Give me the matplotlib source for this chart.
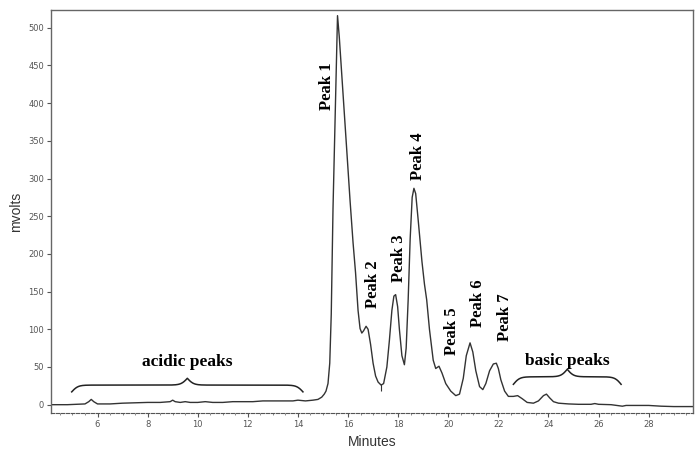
#! /usr/bin/env python3

"""
Chromatogram with labelled peaks (mvolts vs minutes).
"""
import numpy as np
import matplotlib
matplotlib.use('Agg')
import matplotlib.pyplot as plt
from matplotlib.ticker import MultipleLocator

# trace
minutes = [4.15, 4.8, 5.2, 5.5, 5.65, 5.75, 5.85, 6.0, 6.5, 7.0, 7.5, 8.0,
           8.5, 8.9, 9.0, 9.1, 9.3, 9.5, 9.7, 10.0, 10.3, 10.6, 11.0, 11.4,
           11.8, 12.2, 12.6, 13.0, 13.4, 13.8, 14.0, 14.3, 14.6, 14.8, 14.95,
           15.05, 15.12, 15.2, 15.27, 15.33, 15.4, 15.46, 15.52, 15.58,
           15.65, 15.75, 15.85, 15.95, 16.08, 16.2, 16.3, 16.4, 16.48, 16.55,
           16.62, 16.72, 16.8, 16.9, 17.0, 17.1, 17.2, 17.32, 17.42, 17.55,
           17.65, 17.75, 17.83, 17.9, 17.98, 18.05, 18.15, 18.25, 18.32, 18.4,
           18.48, 18.56, 18.63, 18.7, 18.8, 18.95, 19.05, 19.14, 19.25, 19.4,
           19.5, 19.63, 19.75, 19.9, 20.1, 20.3, 20.45, 20.6, 20.72, 20.87,
           20.98, 21.1, 21.25, 21.38, 21.5, 21.65, 21.8, 21.92, 22.0, 22.1,
           22.25, 22.4, 22.6, 22.77, 22.95, 23.15, 23.4, 23.6, 23.8, 23.92,
           24.05, 24.2, 24.4, 24.8, 25.2, 25.7, 25.85, 26.0, 26.5, 26.95,
           27.1, 27.5, 28.0, 28.5, 29.0, 29.8]
mvolts = [0, 0, 0.5, 1, 4, 7, 4, 1, 1, 2, 2.5, 3,
          3, 4, 6, 4, 3, 4, 3, 3, 4, 3, 3, 4,
          4, 4, 5, 5, 5, 5, 6, 5, 6, 7, 10,
          14, 18, 28, 55, 120, 260, 345, 430, 516,
          488, 437, 387, 337, 271, 215, 175, 125, 101, 95,
          98, 104, 100, 80, 55, 38, 30, 26, 28, 50,
          85, 125, 144, 146, 130, 100, 65, 53, 75, 139,
          220, 275, 287, 280, 245, 190, 160, 139, 100, 59,
          48, 51, 42, 28, 18, 12, 14, 35, 65, 82,
          70, 45, 24, 20, 28, 45, 54, 55, 48, 33,
          18, 11, 11, 12, 8, 3, 2, 5, 12, 14,
          9, 4, 2, 1, 0.5, 0.5, 1.5, 0.5, 0, -2,
          -1, -1, -1, -2, -2.5, -2.5]

peak_names = ['Peak 1', 'Peak 2', 'Peak 3', 'Peak 4', 'Peak 5', 'Peak 6',
              'Peak 7']
peak_label_x = [15.15, 16.99, 18.04, 18.79, 20.15, 21.19, 22.27]
peak_label_y = [391, 128, 163, 298, 66, 103, 85]

# groups: (label, start, end, end y, line y, text y)
groups = [('acidic peaks', 4.97, 14.2, 17, 26, 57),
          ('basic peaks', 22.6, 26.9, 27, 37, 58)]


def draw_brace(ax, x0, x1, y_end, y_line):
    # curly brace: two logistic halves mirrored about the middle
    half = (x1 - x0) / 2.0
    k = 8.0
    xs = np.linspace(0, half, 150)
    ys = 1 / (1 + np.exp(-k * xs)) + 1 / (1 + np.exp(-k * (xs - half)))
    ys = np.concatenate([ys, ys[::-1]])
    xs = np.concatenate([xs, xs + half])
    h = (y_line - y_end) / 0.5
    ax.plot(x0 + xs, y_line + (ys - 1) * h, color='#222222', lw=1.1)


def main():
    fig = plt.figure(figsize=(6.96, 4.5), dpi=100)
    ax = fig.add_axes([0.0733, 0.0816, 0.9224, 0.897])

    ax.plot(minutes, mvolts, color='#333333', lw=1.0)
    ax.vlines(17.32, 18, 27, color='#333333', lw=0.8)

    for name, x, y in zip(peak_names, peak_label_x, peak_label_y):
        ax.text(x, y, name, rotation=90, ha='center', va='bottom',
                fontsize=12, fontweight='bold', family='Liberation Serif')

    for label, x0, x1, y_end, y_line, y_text in groups:
        draw_brace(ax, x0, x1, y_end, y_line)
        ax.text((x0 + x1) / 2, y_text, label, ha='center', va='center',
                fontsize=12.5, fontweight='bold', family='Liberation Serif')

    ax.set_xlim(4.144, 29.77)
    ax.set_ylim(-11.4, 524)
    ax.xaxis.set_major_locator(MultipleLocator(2))
    ax.yaxis.set_major_locator(MultipleLocator(50))
    ax.xaxis.set_minor_locator(MultipleLocator(0.5))
    ax.tick_params(which='major', length=3, width=0.8, color='#555555',
                   labelsize=6, labelcolor='#555555', pad=2)
    ax.tick_params(which='minor', length=1.5, width=0.6, color='#777777')
    ax.tick_params(axis='y', which='minor', left=False)

    for side in ['left', 'top', 'right']:
        ax.spines[side].set_color('#666666')
        ax.spines[side].set_linewidth(1.0)
    ax.spines['bottom'].set_color('#555555')
    ax.spines['bottom'].set_linestyle((0, (3, 1.5)))

    ax.set_xlabel('Minutes', fontsize=10, family='Liberation Sans',
                  color='#333333', labelpad=4)
    ax.set_ylabel('mvolts', fontsize=10, family='Liberation Sans',
                  color='#333333', labelpad=4)

    fig.savefig('out.png', dpi=100)


if __name__ == '__main__':
    main()
